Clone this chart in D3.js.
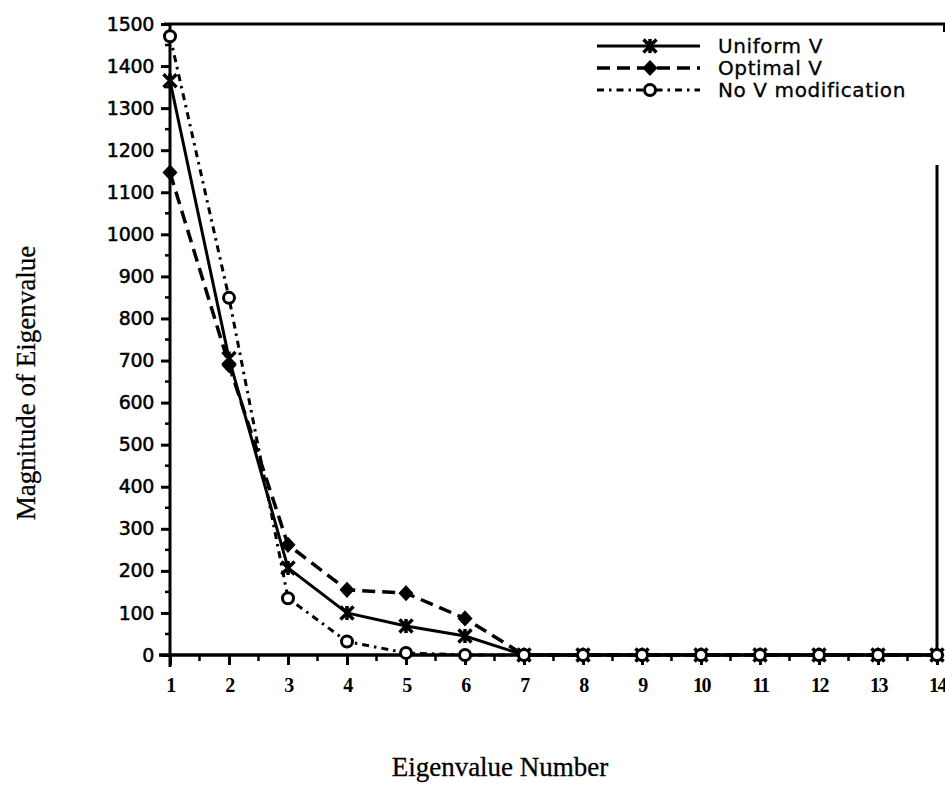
<!DOCTYPE html>
<html>
<head>
<meta charset="utf-8">
<script src="https://cdn.jsdelivr.net/npm/d3@7"></script>
<style>
  html, body { margin: 0; padding: 0; background: #fff; }
  svg { display: block; }
</style>
</head>
<body>
<svg id="chart" width="945" height="789"></svg>
<script>
// Eigenvalue index along the horizontal axis
const eigenNumbers = [1, 2, 3, 4, 5, 6, 7, 8, 9, 10, 11, 12, 13, 14];

// Magnitudes for each weighting scheme
const uniformV = [1365, 705, 207, 100, 69, 45, 0, 0, 0, 0, 0, 0, 0, 0];
const optimalV = [1147, 689, 262, 155, 147, 87, 0, 0, 0, 0, 0, 0, 0, 0];
const noVMod   = [1471, 849, 135, 32, 5, 0, 0, 0, 0, 0, 0, 0, 0, 0];

const seriesNames = ["Uniform V", "Optimal V", "No V modification"];

const yTickValues = [0, 100, 200, 300, 400, 500, 600, 700, 800, 900, 1000, 1100, 1200, 1300, 1400, 1500];

const svg = d3.select("#chart");

const x = d3.scaleLinear().domain([1, 14]).range([170, 937]);
const y = d3.scaleLinear().domain([0, 1500]).range([655, 24]);

const ink = "#000";
const sansFont = "'DejaVu Sans', Verdana, sans-serif";
const serifFont = "'Liberation Serif', 'Times New Roman', Times, serif";

// Frame: top rule and partial right rule
svg.append("line")
  .attr("x1", x(1) - 6).attr("x2", 945)
  .attr("y1", y(1500)).attr("y2", y(1500))
  .attr("stroke", ink).attr("stroke-width", 3);
svg.append("line")
  .attr("x1", 944).attr("x2", 944)
  .attr("y1", y(1500)).attr("y2", y(1500) + 8)
  .attr("stroke", ink).attr("stroke-width", 2);
svg.append("line")
  .attr("x1", x(14)).attr("x2", x(14))
  .attr("y1", y(1165)).attr("y2", y(0))
  .attr("stroke", ink).attr("stroke-width", 3);

// Y axis: major ticks every 100, minor every 50
const yAxis = d3.axisLeft(y)
  .tickValues(yTickValues)
  .tickSize(9)
  .tickPadding(7)
  .tickFormat(d3.format("d"));
const gy = svg.append("g").attr("transform", `translate(${x(1)},0)`).call(yAxis);
gy.select(".domain").attr("stroke-width", 3).attr("d", `M0,${y(1500)}V${y(0) + 12}`);
gy.selectAll(".tick line").attr("stroke-width", 3);
gy.selectAll(".tick text")
  .attr("font-family", sansFont)
  .attr("font-size", 19)
  .attr("fill", ink)
  .attr("stroke", ink).attr("stroke-width", 0.5)
  .attr("letter-spacing", "-0.3");
const yMinor = d3.range(50, 1500, 100);
svg.append("g").selectAll("line").data(yMinor).join("line")
  .attr("x1", x(1) - 5).attr("x2", x(1))
  .attr("y1", d => y(d)).attr("y2", d => y(d))
  .attr("stroke", ink).attr("stroke-width", 2.5);

// X axis: integer ticks downward, half-step minor ticks
const xAxis = d3.axisBottom(x)
  .tickValues(eigenNumbers)
  .tickSize(10)
  .tickPadding(13)
  .tickFormat(d3.format("d"));
const gx = svg.append("g").attr("transform", `translate(0,${y(0)})`).call(xAxis);
gx.select(".domain").attr("stroke-width", 3.5).attr("d", `M${x(1) - 11},0H${x(14)}`);
gx.selectAll(".tick line").attr("stroke-width", 3);
gx.selectAll(".tick text")
  .attr("font-family", serifFont)
  .attr("font-size", 20)
  .attr("font-weight", "bold")
  .attr("fill", ink)
  .attr("letter-spacing", "-1.5");
const xMinor = d3.range(1.5, 14, 1);
svg.append("g").selectAll("line").data(xMinor).join("line")
  .attr("x1", d => x(d)).attr("x2", d => x(d))
  .attr("y1", y(0)).attr("y2", y(0) + 6)
  .attr("stroke", ink).attr("stroke-width", 2.5);

// Axis titles
svg.append("text")
  .attr("x", 500).attr("y", 776)
  .attr("text-anchor", "middle")
  .attr("font-family", serifFont)
  .attr("font-size", 27)
  .attr("fill", ink)
  .attr("stroke", ink).attr("stroke-width", 0.3)
  .text("Eigenvalue Number");
svg.append("text")
  .attr("transform", "translate(35,383) rotate(-90)")
  .attr("text-anchor", "middle")
  .attr("font-family", serifFont)
  .attr("font-size", 27)
  .attr("fill", ink)
  .attr("stroke", ink).attr("stroke-width", 0.3)
  .text("Magnitude of Eigenvalue");

// Marker shapes
const starPath = "M-6.5,-6.5L6.5,6.5M-6.5,6.5L6.5,-6.5M0,-7L0,7";
const diamondPath = "M0,-7L6.5,0L0,7L-6.5,0Z";

function drawMarker(g, kind, cx, cy) {
  if (kind === 0) {
    g.append("path").attr("d", starPath)
      .attr("transform", `translate(${cx},${cy})`)
      .attr("stroke", ink).attr("stroke-width", 3.5).attr("fill", "none");
  } else if (kind === 1) {
    g.append("path").attr("d", diamondPath)
      .attr("transform", `translate(${cx},${cy})`)
      .attr("fill", ink).attr("stroke", ink).attr("stroke-width", 1.5);
  } else {
    g.append("circle").attr("cx", cx).attr("cy", cy).attr("r", 5.5)
      .attr("fill", "#fff").attr("stroke", ink).attr("stroke-width", 3);
  }
}

const seriesList = [
  { values: uniformV, dash: null, width: 3 },
  { values: optimalV, dash: "13,7", width: 3.5 },
  { values: noVMod, dash: "7,5,2.5,5", width: 3 }
];

const line = d3.line().x(d => x(d[0])).y(d => y(d[1]));

seriesList.forEach((s, k) => {
  const pts = eigenNumbers.map((n, i) => [n, s.values[i]]);
  const g = svg.append("g");
  g.append("path")
    .attr("d", line(pts))
    .attr("fill", "none")
    .attr("stroke", ink)
    .attr("stroke-width", s.width)
    .attr("stroke-dasharray", s.dash);
  pts.forEach(p => drawMarker(g, k, x(p[0]), y(p[1])));
});

// Legend
const legend = svg.append("g");
const legendRows = [46, 68, 90];
seriesList.forEach((s, k) => {
  const ly = legendRows[k];
  legend.append("line")
    .attr("x1", 597).attr("x2", 700)
    .attr("y1", ly).attr("y2", ly)
    .attr("stroke", ink).attr("stroke-width", s.width)
    .attr("stroke-dasharray", s.dash);
  drawMarker(legend, k, 650, ly);
  legend.append("text")
    .attr("x", 718).attr("y", ly + 7)
    .attr("font-family", sansFont)
    .attr("font-size", 20)
    .attr("letter-spacing", "0.6")
    .attr("fill", ink)
    .attr("stroke", ink).attr("stroke-width", 0.3)
    .text(seriesNames[k]);
});
</script>
</body>
</html>
